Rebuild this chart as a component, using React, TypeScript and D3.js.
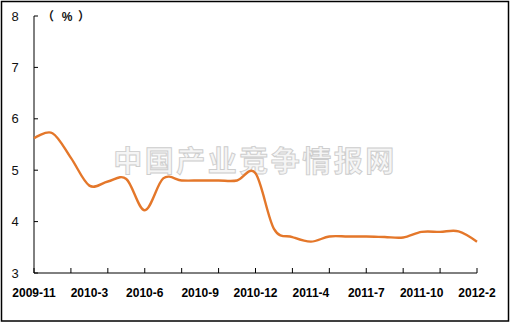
import React from "react";
import * as d3 from "d3";

const categories = [
  "2009-11", "2009-12", "2010-2", "2010-3", "2010-4", "2010-5", "2010-6", "2010-7", "2010-8",
  "2010-9", "2010-10", "2010-11", "2010-12", "2011-2", "2011-3", "2011-4", "2011-5", "2011-6",
  "2011-7", "2011-8", "2011-9", "2011-10", "2011-11", "2011-12", "2012-2",
];
const values = [
  5.62, 5.72, 5.24, 4.7, 4.78, 4.83, 4.22, 4.84, 4.8,
  4.8, 4.8, 4.8, 4.94, 3.86, 3.7, 3.61, 3.71, 3.71,
  3.71, 3.7, 3.69, 3.8, 3.8, 3.81, 3.61,
];
const yTicks = [3, 4, 5, 6, 7, 8];
const labelEvery = 3;
const tickEvery = 2;
const unitParts = ["（", "%", "）"];
const watermark = "中国产业竞争情报网";

export default function App() {
  const W = 511, H = 324;
  const left = 34, right = 477, top = 16, bottom = 273;
  const x = d3.scalePoint<number>().domain(d3.range(categories.length)).range([left, right]);
  const y = d3.scaleLinear().domain([3, 8]).range([bottom, top]);
  const line = d3
    .line<number>()
    .x((_, i) => x(i) as number)
    .y((d) => y(d))
    .curve(d3.curveCardinal.tension(0));
  const path = line(values) || "";
  const color = "#E4772A";
  const unitX = [48, 67, 84];

  return (
    <svg
      width={W}
      height={H}
      style={{ position: "fixed", left: 0, top: 0, background: "#fff" }}
      fontFamily="'Liberation Sans', Arial, sans-serif"
    >
      <rect x={1.5} y={1.5} width={507} height={319.5} fill="#fff" stroke="#000" strokeWidth={1.5} />
      {/* watermark */}
      <text
        x={255}
        y={172}
        textAnchor="middle"
        fontSize={29}
        fontWeight={700}
        letterSpacing={2.5}
        fontFamily="'Noto Sans CJK SC', sans-serif"
        fill="#f5f5f5"
        stroke="#cdcdcd"
        strokeWidth={0.9}
      >
        {watermark}
      </text>
      {/* y axis */}
      <line x1={left} x2={left} y1={top} y2={bottom} stroke="#000" strokeWidth={1} />
      {yTicks.map((t) => (
        <g key={t}>
          <line x1={left} x2={left + 4} y1={y(t)} y2={y(t)} stroke="#000" />
          <text x={15} y={y(t) + 4.5} textAnchor="middle" fontSize={13} fill="#111">
            {t}
          </text>
        </g>
      ))}
      {unitParts.map((p, i) => (
        <text key={"u" + i} x={unitX[i]} y={21} textAnchor="middle" fontSize={12} fontWeight={700} fill="#111"
          fontFamily={i === 1 ? "'Liberation Sans', Arial, sans-serif" : "'Noto Sans CJK SC', sans-serif"}>
          {p}
        </text>
      ))}
      {/* x axis */}
      <line x1={left} x2={right} y1={bottom} y2={bottom} stroke="#000" strokeWidth={1} />
      {categories.map((c, i) =>
        i % tickEvery === 0 ? (
          <line key={"t" + i} x1={x(i)} x2={x(i)} y1={bottom} y2={bottom - 5} stroke="#000" />
        ) : null
      )}
      {categories.map((c, i) =>
        i % labelEvery === 0 ? (
          <text key={"l" + i} x={x(i)} y={297} textAnchor="middle" fontSize={12} fontWeight={700} fill="#000">
            {c}
          </text>
        ) : null
      )}
      <path d={path} fill="none" stroke={color} strokeWidth={2.4} strokeLinejoin="round" />
    </svg>
  );
}
